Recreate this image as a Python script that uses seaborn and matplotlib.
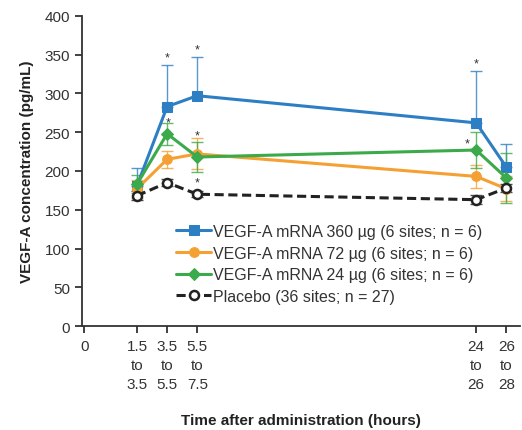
import numpy as np
import pandas as pd
import seaborn as sns
import matplotlib.pyplot as plt

times = [1.5, 3.5, 5.5, 24, 26]
tick_labels = ["0", "1.5\nto\n3.5", "3.5\nto\n5.5", "5.5\nto\n7.5", "24\nto\n26", "26\nto\n28"]

series_names = [
    "VEGF-A mRNA 360 µg (6 sites; n = 6)",
    "VEGF-A mRNA 72 µg (6 sites; n = 6)",
    "VEGF-A mRNA 24 µg (6 sites; n = 6)",
    "Placebo (36 sites; n = 27)",
]
vegf_360 = [181, 283, 297, 262, 205]
vegf_72 = [177, 215, 222, 193, 177]
vegf_24 = [183, 248, 218, 227, 191]
placebo = [168, 185, 170, 163, 178]

err_360 = [23, 54, 50, 67, 30]
err_72 = [12, 11, 20, 15, 16]
err_24 = [12, 14, 19, 23, 32]
err_placebo = [6, 5, 4, 6, 5]

colors = ["#2E7EC4", "#F5A033", "#3BAA4A", "#222222"]
markers = ["s", "o", "D", "o"]

df = pd.DataFrame({
    "time": times * 4,
    "conc": vegf_360 + vegf_72 + vegf_24 + placebo,
    "group": np.repeat(series_names, len(times)),
})

sns.set_style("ticks")
plt.rcParams["font.family"] = ["Liberation Sans", "DejaVu Sans"]

fig = plt.figure(figsize=(5.22, 4.31), dpi=100)
ax = fig.add_axes([0.157, 0.241, 0.839, 0.72])

errs = [err_360, err_72, err_24, err_placebo]
vals = [vegf_360, vegf_72, vegf_24, placebo]
for i, (v, e) in enumerate(zip(vals, errs)):
    if i == 0:
        yerr = [np.zeros(len(e)), e]
    else:
        yerr = e
    ax.errorbar(times, v, yerr=yerr, fmt="none", ecolor=colors[i], elinewidth=1.0,
                capsize=4, capthick=1.0, alpha=0.8, zorder=1)

sns.lineplot(data=df, x="time", y="conc", hue="group", hue_order=series_names,
             palette=colors, ax=ax, legend=False, linewidth=2.2, zorder=3)
for i, line in enumerate(ax.get_lines()[-4:]):
    line.set_marker(markers[i])
    line.set_markersize(7 if markers[i] != "D" else 6.5)
    line.set_markeredgecolor(colors[i])
    if i == 3:
        line.set_linestyle((0, (3, 1.5)))
        line.set_markerfacecolor("white")
        line.set_markeredgewidth(1.8)
        line.set_markersize(6.5)
        line.set_zorder(4)
    else:
        line.set_markerfacecolor(colors[i])

handles = ax.get_lines()[-4:]
ax.legend(handles, series_names, loc="upper left", bbox_to_anchor=(0.2, 0.35),
          frameon=False, fontsize=11.5, handlelength=2.2, handletextpad=0.1,
          labelspacing=0.42, labelcolor="#333333", borderaxespad=0)

# significance marks
stars = [(3.5, 346), (5.5, 357), (24, 339), (3.6, 262), (5.5, 246), (5.5, 185), (23.4, 235)]
for sx, sy in stars:
    ax.text(sx, sy, "*", ha="center", va="center", fontsize=9, color="#333333")

ax.set_xlim(-2.15, 26.9)
ax.set_ylim(0, 400)
ax.set_xticks([-2] + times)
ax.set_xticklabels(tick_labels, linespacing=1.45)
ax.set_yticks(range(0, 401, 50))
ax.tick_params(axis="both", labelsize=11, colors="#333333", length=5, width=1.3)
ax.tick_params(axis="x", pad=4)
for s in ["top", "right"]:
    ax.spines[s].set_visible(False)
for s in ["left", "bottom"]:
    ax.spines[s].set_linewidth(1.3)
    ax.spines[s].set_color("#333333")

ax.set_xlabel("Time after administration (hours)", fontsize=11, fontweight="bold",
              color="#222222", labelpad=16)
ax.set_ylabel("VEGF-A concentration (pg/mL)", fontsize=11, fontweight="bold",
              color="#222222", labelpad=8)

fig.savefig("out.png", dpi=100)
